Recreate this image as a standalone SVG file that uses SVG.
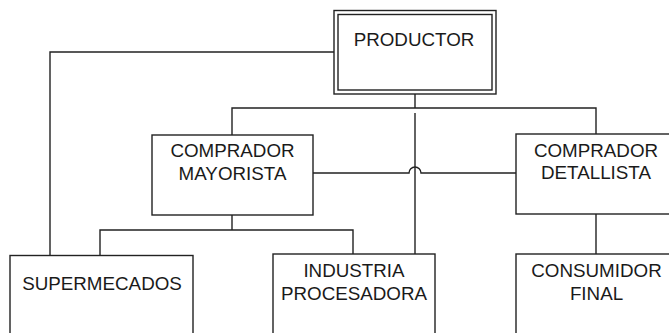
<svg xmlns="http://www.w3.org/2000/svg" width="669" height="333" viewBox="0 0 669 333">
<style>
.box{fill:#fff;stroke:#222;stroke-width:1.4}
.ln{fill:none;stroke:#222;stroke-width:1.4}
text{font-family:"Liberation Sans",Arial,sans-serif;font-size:18.8px;fill:#1a1a1a;text-anchor:middle}
</style>
<rect width="669" height="333" fill="#fff"/>
<g id="connectors">
<path class="ln" d="M334,52 H50 V256"/>
<path class="ln" d="M415,94 V108"/>
<path class="ln" d="M232,135 V108 H596 V134"/>
<path class="ln" d="M415,113 V254"/>
<path class="ln" d="M313,173 H409 A6,6 0 0 1 421,173 H516"/>
<path class="ln" d="M232,215 V230"/>
<path class="ln" d="M100,255 V230 H353 V254"/>
<path class="ln" d="M596,214 V254"/>
</g>
<g id="productor">
<rect class="box" x="334" y="10.5" width="162" height="83.5"/>
<rect class="box" x="338" y="14.5" width="154" height="75.5"/>
<text x="414" y="45.5">PRODUCTOR</text>
</g>
<g id="comprador-mayorista">
<rect class="box" x="152" y="135" width="161" height="80"/>
<text x="232.5" y="157">COMPRADOR</text>
<text x="232.5" y="180">MAYORISTA</text>
</g>
<g id="comprador-detallista">
<rect class="box" x="516" y="134" width="160" height="80"/>
<text x="596" y="157">COMPRADOR</text>
<text x="596" y="179">DETALLISTA</text>
</g>
<g id="supermecados">
<rect class="box" x="10" y="255.5" width="183" height="90"/>
<text x="102" y="290">SUPERMECADOS</text>
</g>
<g id="industria-procesadora">
<rect class="box" x="273" y="254" width="162" height="90"/>
<text x="354" y="277">INDUSTRIA</text>
<text x="354" y="300">PROCESADORA</text>
</g>
<g id="consumidor-final">
<rect class="box" x="516" y="254" width="160" height="90"/>
<text x="596.5" y="277">CONSUMIDOR</text>
<text x="596.5" y="300">FINAL</text>
</g>
</svg>
